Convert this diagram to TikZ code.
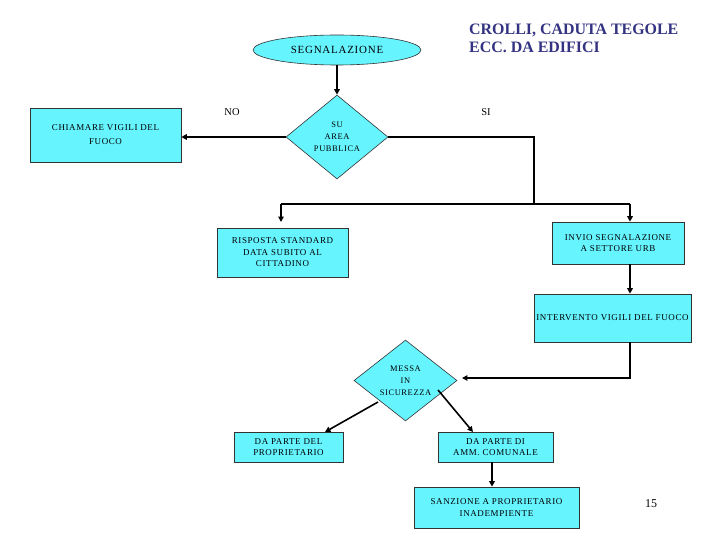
\documentclass[tikz,border=0pt]{standalone}
\usepackage{fontspec}
\setmainfont{Liberation Serif}
\usetikzlibrary{shapes.geometric,arrows.meta}
\definecolor{boxfill}{RGB}{102,245,255}
\definecolor{titleblue}{RGB}{51,51,130}
\newfontfamily\boxfont[LetterSpace=7]{Liberation Serif}
\tikzset{
  flowbox/.style={draw=black!80,line width=0.6pt,fill=boxfill,inner sep=0pt,align=center,font=\boxfont\fontsize{9}{11.5}\selectfont},
  flowdia/.style={draw=black!80,line width=0.6pt,fill=boxfill,diamond,inner sep=0pt,align=center,font=\boxfont\fontsize{8.5}{12}\selectfont},
  conn/.style={line width=1.6pt,-{Triangle[length=5.5pt,width=5.5pt]}},
  plainconn/.style={line width=1.6pt},
  lbl/.style={font=\fontsize{10.5}{12}\selectfont,inner sep=0pt}
}
\begin{document}
\begin{tikzpicture}[x=1bp,y=-1bp]
\useasboundingbox (0,0) rectangle (720,540);
\node[draw=black!80,line width=0.6pt,fill=boxfill,ellipse,minimum width=168bp,minimum height=30bp,inner sep=0pt,font=\boxfont\fontsize{11}{13}\selectfont] (seg) at (337,50) {SEGNALAZIONE};
\node[flowdia,minimum width=102bp,minimum height=84bp] (area) at (337,137) {SU\\AREA\\PUBBLICA};
\node[flowbox,minimum width=151bp,minimum height=54bp,font=\boxfont\fontsize{9}{14}\selectfont] (vvf) at (105.5,135) {CHIAMARE VIGILI DEL\\FUOCO};
\node[flowbox,minimum width=131bp,minimum height=49bp] (risp) at (282.5,252.5) {RISPOSTA STANDARD\\DATA SUBITO AL\\CITTADINO};
\node[flowbox,minimum width=132bp,minimum height=42bp] (invio) at (618,243) {INVIO SEGNALAZIONE\\A SETTORE URB};
\node[flowbox,minimum width=157bp,minimum height=48bp] (interv) at (612.5,318) {INTERVENTO VIGILI DEL FUOCO};
\node[flowdia,minimum width=103bp,minimum height=65bp] (messa) at (405.5,380.5) {MESSA\\IN\\SICUREZZA};
\node[flowbox,minimum width=109bp,minimum height=30bp] (prop) at (288.5,447) {DA PARTE DEL\\PROPRIETARIO};
\node[flowbox,minimum width=115bp,minimum height=30bp] (comu) at (495.5,447) {DA PARTE DI\\AMM. COMUNALE};
\node[flowbox,minimum width=165bp,minimum height=41bp] (sanz) at (496.5,507.5) {SANZIONE A PROPRIETARIO\\INADEMPIENTE};
\node[font=\bfseries\fontsize{16}{18}\selectfont,text=titleblue,align=left,anchor=north west,inner sep=0pt] (title) at (469,24) {CROLLI, CADUTA TEGOLE\\ECC. DA EDIFICI};
\node[lbl] (no) at (232,112) {NO};
\node[lbl] (si) at (486,112) {SI};
\node[font=\fontsize{12}{14}\selectfont,inner sep=0pt] (page) at (651,504) {15};
\coordinate (c1) at (534,137);
\coordinate (c2) at (534,204);
\coordinate (c3) at (281,204);
\coordinate (c4) at (630,204);
\coordinate (c5) at (630,378);
\coordinate (e3) at (281,222);
\coordinate (e5) at (462,378);
\coordinate (s1) at (378,402);
\coordinate (e1) at (325,432);
\coordinate (s2) at (438,390);
\coordinate (e2) at (473,432);
\draw[conn] (seg.south) -- (area.north);
\draw[conn] (area.west) -- (vvf.east |- area.west);
\draw[plainconn] (area.east) -- (c1) -- (c2);
\draw[plainconn] (c3) -- (c4);
\draw[conn] (c3) -- (e3);
\draw[conn] (c4) -- (invio.north -| c4);
\draw[conn] (invio.south -| c4) -- (interv.north -| c4);
\draw[conn] (interv.south -| c4) -- (c5) -- (e5);
\draw[conn] (s1) -- (e1);
\draw[conn] (s2) -- (e2);
\draw[conn] (comu.south -| 492,0) -- (sanz.north -| 492,0);
\end{tikzpicture}
\end{document}
